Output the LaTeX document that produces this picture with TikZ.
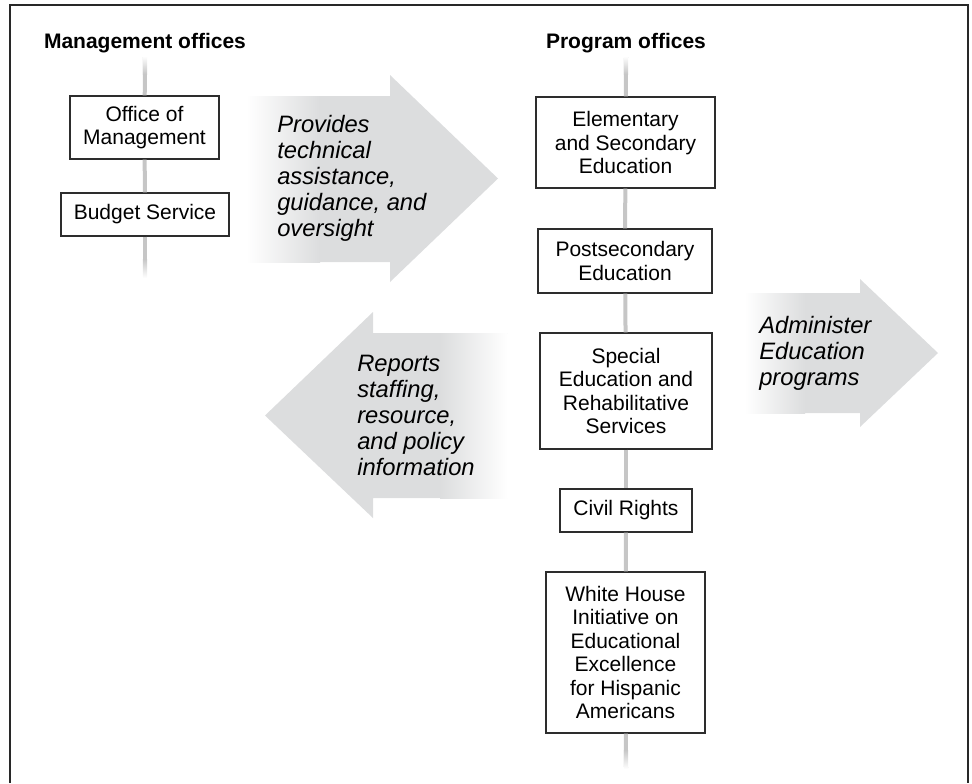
\documentclass[tikz,border=0pt]{standalone}
\usepackage{fontspec}
\setmainfont{Liberation Sans}
\usetikzlibrary{calc}
\definecolor{lineg}{RGB}{198,198,198}
\definecolor{arrg}{RGB}{220,221,222}
\definecolor{boxline}{RGB}{45,45,45}
\definecolor{framec}{RGB}{40,40,40}
\begin{document}
\begin{tikzpicture}[x=0.75pt,y=-0.75pt,
  office/.style={draw=boxline, line width=1pt, fill=white, align=center, inner sep=0pt,
    font=\fontsize{15.75}{17.6}\selectfont},
  sized/.style 2 args={minimum width=#1*0.75pt, minimum height=#2*0.75pt},
  hdr/.style={font=\fontsize{15.75}{18}\selectfont\bfseries, anchor=base, inner sep=0pt},
  flowtext/.style={font=\fontsize{17.8}{19.5}\selectfont\itshape, align=left, anchor=west, inner sep=0pt},
  vline/.style={draw=lineg, line width=3pt},
  bigarrow/.style={fill=arrg},
  frame/.style={draw=framec, line width=1.5pt}]
\useasboundingbox (0,0) rectangle (972,783);

% headers
\node[hdr] (mh) at (145,48) {Management offices};
\node[hdr] (ph) at (626,48) {Program offices};

% office boxes
\node[office, sized={149}{63}] (om) at (144.5,127.5) {Office of\\Management};
\node[office, sized={168}{43}] (bs) at (145,214.5) {Budget Service};
\node[office, sized={179}{91}] (ese) at (625.5,142.5) {Elementary\\and Secondary\\Education};
\node[office, sized={174}{64}] (pe) at (625,261) {Postsecondary\\Education};
\node[office, sized={172}{116}] (sers) at (626,391) {Special\\Education and\\Rehabilitative\\Services};
\node[office, sized={132}{43}] (cr) at (626,510.5) {Civil Rights};
\node[office, sized={159}{161}] (wh) at (625.5,652.5) {White House\\Initiative on\\Educational\\Excellence\\for Hispanic\\Americans};

% free ends of the vertical lines
\coordinate (tl) at (145,57);
\coordinate (bl) at (145,277);
\coordinate (tr) at (626,57);
\coordinate (br) at (626,768);

% vertical connectors
\draw[vline] (tl) -- (om);
\draw[vline] (om) -- (bs);
\draw[vline] (bs) -- (bl);
\draw[vline] (tr) -- (ese);
\draw[vline] (ese) -- (pe);
\draw[vline] (pe) -- (sers);
\draw[vline] (sers) -- (cr);
\draw[vline] (cr) -- (wh);
\draw[vline] (wh) -- (br);

% fading ends
\shade[top color=white, bottom color=lineg] (142.8,56) rectangle (147.2,74);
\shade[top color=lineg, bottom color=white] (142.8,259) rectangle (147.2,278);
\shade[top color=white, bottom color=lineg] (623.8,56) rectangle (628.2,74);
\shade[top color=lineg, bottom color=white] (623.8,750) rectangle (628.2,769);

% arrow 1: provides
\path[bigarrow] (247,96) -- (390,96) -- (390,75) -- (498,178.5) -- (390,282) -- (390,262) -- (247,262) -- cycle;
\shade[left color=white, right color=arrg] (246.6,96) rectangle (320,262);
\node[flowtext] (t1) at (277,178.5) {Provides\\technical\\assistance,\\guidance, and\\oversight};

% arrow 3: reports
\path[bigarrow] (265,415.5) -- (373,312) -- (373,333) -- (507,333) -- (507,498) -- (373,498) -- (373,518) -- cycle;
\shade[left color=arrg, right color=white] (440,333) rectangle (507.4,498);
\node[flowtext] (t3) at (357,415.5) {Reports\\staffing,\\resource,\\and policy\\information};

% arrow 2: administer
\path[bigarrow] (745,293) -- (860,293) -- (860,279) -- (938,353) -- (860,427) -- (860,413) -- (745,413) -- cycle;
\shade[left color=white, right color=arrg] (744.6,293) rectangle (805,413);
\node[flowtext] (t2) at (759,353) {Administer\\Education\\programs};

% frame
\draw[frame] (10,783) -- (10,5) -- (968,5) -- (968,783);
\end{tikzpicture}
\end{document}
